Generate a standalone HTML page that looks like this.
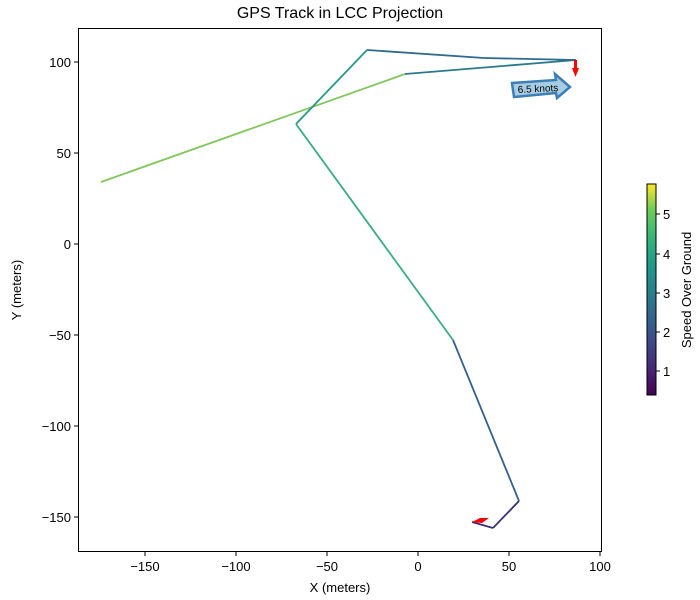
<!DOCTYPE html>
<html><head><style>body{margin:0;background:#fff}svg{display:block}text{font-family:"Liberation Sans",sans-serif;fill:#000}</style></head>
<body>
<svg width="700" height="600" viewBox="0 0 700 600" xmlns="http://www.w3.org/2000/svg">
<defs>
<linearGradient id="vir" x1="0" y1="1" x2="0" y2="0">
<stop offset="0" stop-color="#440154"/><stop offset="0.13" stop-color="#482878"/><stop offset="0.25" stop-color="#3e4989"/><stop offset="0.38" stop-color="#31688e"/><stop offset="0.5" stop-color="#26828e"/><stop offset="0.63" stop-color="#1f9e89"/><stop offset="0.75" stop-color="#35b779"/><stop offset="0.88" stop-color="#6ece58"/><stop offset="1" stop-color="#fde725"/>
</linearGradient>
</defs>
<text x="340" y="18" font-size="16" text-anchor="middle">GPS Track in LCC Projection</text>
<g fill="none" stroke-width="1.8" stroke-linejoin="round">
<line x1="101" y1="182" x2="405" y2="74" stroke="#7fc75a"/>
<line x1="405" y1="74" x2="576" y2="60" stroke="#2a7a8e"/>
<line x1="576" y1="60" x2="484" y2="58" stroke="#2e6b8e"/>
<line x1="484" y1="58" x2="367" y2="50" stroke="#2e6b8e"/>
<line x1="367" y1="50" x2="296" y2="124" stroke="#269a88"/>
<line x1="296" y1="124" x2="453" y2="340" stroke="#3aac86"/>
<line x1="453" y1="340" x2="519" y2="501" stroke="#35608d"/>
<line x1="519" y1="501" x2="493" y2="528" stroke="#3b2f72"/>
<line x1="493" y1="528" x2="472" y2="522" stroke="#3b2f72"/>
</g>
<polygon points="574,60 577,60 577,68 579,68 575.5,77 572,68 574,68" fill="#f00"/>
<polygon points="472,522 480,518 489,518 482,523" fill="#f00"/>
<polygon points="512,83 556,80 555,74 570,87 557,98 556,93 514,97" fill="#a7cde4" stroke="#3c7fb6" stroke-width="2.5"/>
<text x="538" y="92" font-size="10" text-anchor="middle" transform="rotate(-3 538 89)">6.5 knots</text>
<rect x="78.5" y="28.5" width="523" height="523" fill="none" stroke="#000" stroke-width="1"/>
<g stroke="#000">
<line x1="145" y1="552" x2="145" y2="556"/><line x1="236" y1="552" x2="236" y2="556"/><line x1="327" y1="552" x2="327" y2="556"/><line x1="418" y1="552" x2="418" y2="556"/><line x1="509" y1="552" x2="509" y2="556"/><line x1="600" y1="552" x2="600" y2="556"/>
<line x1="74" y1="62" x2="78" y2="62"/><line x1="74" y1="153" x2="78" y2="153"/><line x1="74" y1="244" x2="78" y2="244"/><line x1="74" y1="335" x2="78" y2="335"/><line x1="74" y1="426" x2="78" y2="426"/><line x1="74" y1="517" x2="78" y2="517"/>
</g>
<g font-size="13" text-anchor="middle">
<text x="145" y="571">−150</text><text x="236" y="571">−100</text><text x="327" y="571">−50</text><text x="418" y="571">0</text><text x="509" y="571">50</text><text x="600" y="571">100</text>
<text x="340" y="592">X (meters)</text>
</g>
<g font-size="13" text-anchor="end">
<text x="71" y="67">100</text><text x="71" y="158">50</text><text x="71" y="249">0</text><text x="71" y="340">−50</text><text x="71" y="431">−100</text><text x="71" y="522">−150</text>
</g>
<text transform="translate(21 290) rotate(-90)" font-size="13" text-anchor="middle">Y (meters)</text>
<rect x="647" y="184" width="9" height="211" fill="url(#vir)" stroke="#000" stroke-width="1"/>
<g stroke="#000"><line x1="656" y1="214" x2="660" y2="214"/><line x1="656" y1="254" x2="660" y2="254"/><line x1="656" y1="293" x2="660" y2="293"/><line x1="656" y1="332" x2="660" y2="332"/><line x1="656" y1="371" x2="660" y2="371"/></g>
<g font-size="13"><text x="663" y="219">5</text><text x="663" y="259">4</text><text x="663" y="298">3</text><text x="663" y="337">2</text><text x="663" y="376">1</text></g>
<text transform="translate(691 290) rotate(-90)" font-size="13" text-anchor="middle">Speed Over Ground</text>
</svg>
</body></html>
